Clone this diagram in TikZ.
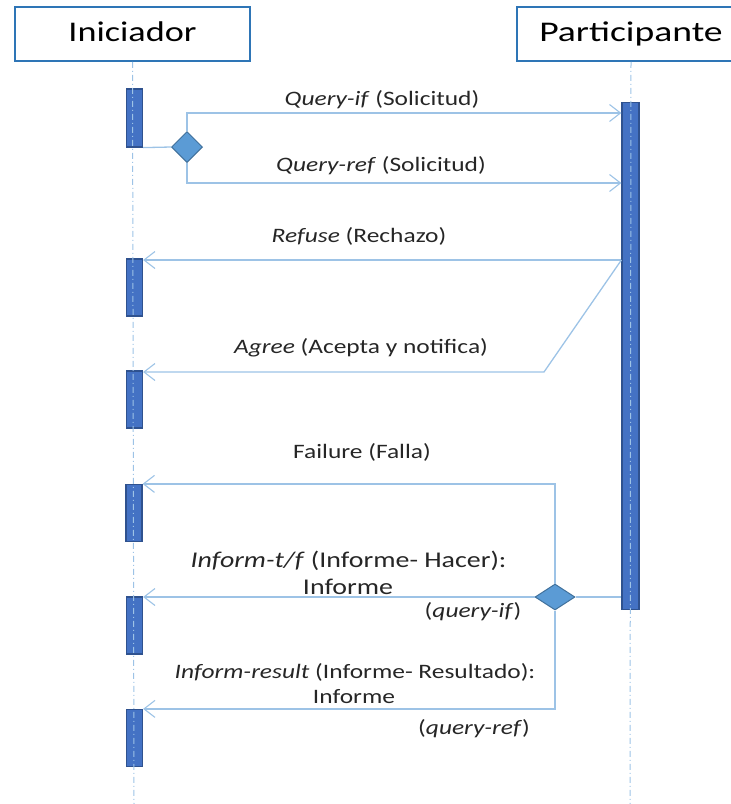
\documentclass[tikz,border=0pt]{standalone}
\usepackage{fontspec}
\setmainfont{Carlito}
\usetikzlibrary{shapes.geometric,arrows.meta}
\definecolor{boxblue}{HTML}{2E75B6}
\definecolor{msgblue}{HTML}{9DC3E6}
\definecolor{barblue}{HTML}{4472C4}
\definecolor{bardark}{HTML}{2F528F}
\definecolor{dmdblue}{HTML}{5B9BD5}
\definecolor{dmddark}{HTML}{41719C}
\newcommand{\wx}[1]{\scalebox{1.24}[1]{#1}}
\newcommand{\wt}[2][1.27]{\scalebox{#1}[1]{#2}}
\begin{document}
\begin{tikzpicture}[
        x=1pt, y=-1pt,
        actor/.style={draw=boxblue, line width=1.6pt, minimum width=235pt, minimum height=54pt,
            inner sep=0pt, text height=20pt, text depth=6pt, font=\fontsize{28.5}{34}\selectfont},
        act/.style={draw=bardark, fill=barblue, line width=1.2pt, minimum width=16pt, inner sep=0pt},
        dmd/.style={diamond, draw=dmddark, fill=dmdblue, line width=1pt, inner sep=0pt},
        life/.style={msgblue, line width=1pt, dash pattern=on 6pt off 3pt on 1pt off 3pt},
        msg/.style={msgblue, line width=1.3pt, -{Straight Barb[length=11pt, width=17pt, line width=1.1pt]}},
        link/.style={msgblue, line width=1.3pt},
        lbl/.style={font=\fontsize{20.5}{26}\selectfont, inner sep=0pt, anchor=base, text=black!85},
        lblbig/.style={lbl, font=\fontsize{22.5}{26}\selectfont}
    ]
        \useasboundingbox (0,0) rectangle (731,804);
        
        % Lifeline heads
        \node[actor] (ini) at (132.5,34) {\wt{Iniciador}};
        \node[actor, minimum width=228pt] (par) at (631,34) {\wt[1.32]{Participante}};
        \coordinate (iniend) at (134,804);
        \coordinate (parend) at (630,804);
        
        % Activation bars
        \node[act, minimum height=58pt] (b1) at (134.5,118) {};
        \node[act, minimum height=57pt] (b2) at (134.5,287.5) {};
        \node[act, minimum height=57pt] (b3) at (134.5,399.5) {};
        \node[act, minimum height=57pt] (b4) at (134,513) {};
        \node[act, minimum height=57pt] (b5) at (134.5,625.5) {};
        \node[act, minimum height=57pt] (b6) at (134.5,738) {};
        \node[act, minimum width=17pt, minimum height=507pt] (pbar) at (630.5,356) {};
        
        % Decision points
        \node[dmd, minimum width=31pt, minimum height=31pt] (d1) at (187,147) {};
        \node[dmd, minimum width=40pt, minimum height=26pt] (d2) at (555,597) {};
        
        % Lifelines
        \draw[life] (ini.south) -- (iniend);
        \draw[life] (par.south) -- (parend);
        
        % Message rows
        \coordinate (qif) at (0,113);
        \coordinate (qref) at (0,183);
        \coordinate (rfs) at (0,260);
        \coordinate (agk) at (544,372);
        
        % Requests
        \draw[link] (b1.south east) -- (d1.west);
        \draw[msg] (d1.north) |- (qif -| pbar.west);
        \draw[msg] (d1.south) |- (qref -| pbar.west);
        \node[lbl] (lqif) at (382,105) {\wx{\textit{Query-if} (Solicitud)}};
        \node[lbl] (lqref) at (381,171) {\wx{\textit{Query-ref} (Solicitud)}};
        
        % Answers
        \draw[msg] (rfs -| pbar.west) -- (rfs -| b2.east);
        \draw[msg] (rfs -| pbar.west) -- (agk) -- (agk -| b3.east);
        \node[lbl] (lrfs) at (359,242) {\wx{\textit{Refuse} (Rechazo)}};
        \node[lbl] (lagr) at (361,353) {\wx{\textit{Agree} (Acepta y notifica)}};
        
        % Results
        \draw[link] (d2.east) -- (d2.east -| pbar.west);
        \draw[msg] (d2.north) |- (b4.north east);
        \draw[msg] (d2.west) -- (d2.west -| b5.east);
        \draw[msg] (d2.south) |- (b6.north east);
        \node[lbl] (lfail) at (362,458) {\wx{Failure (Falla)}};
        \node[lblbig] (linf1) at (348.5,567) {\wx{\textit{Inform-t/f} (Informe- Hacer):}};
        \node[lblbig] (linf2) at (348,594) {\wx{Informe}};
        \node[lbl] (lqif2) at (473,617) {\wx{(\textit{query-if})}};
        \node[lbl] (lres1) at (355,678) {\wx{\textit{Inform-result} (Informe- Resultado):}};
        \node[lbl] (lres2) at (354,703) {\wx{Informe}};
        \node[lbl] (lqref2) at (474,734) {\wx{(\textit{query-ref})}};
        
    \end{tikzpicture}
\end{document}
